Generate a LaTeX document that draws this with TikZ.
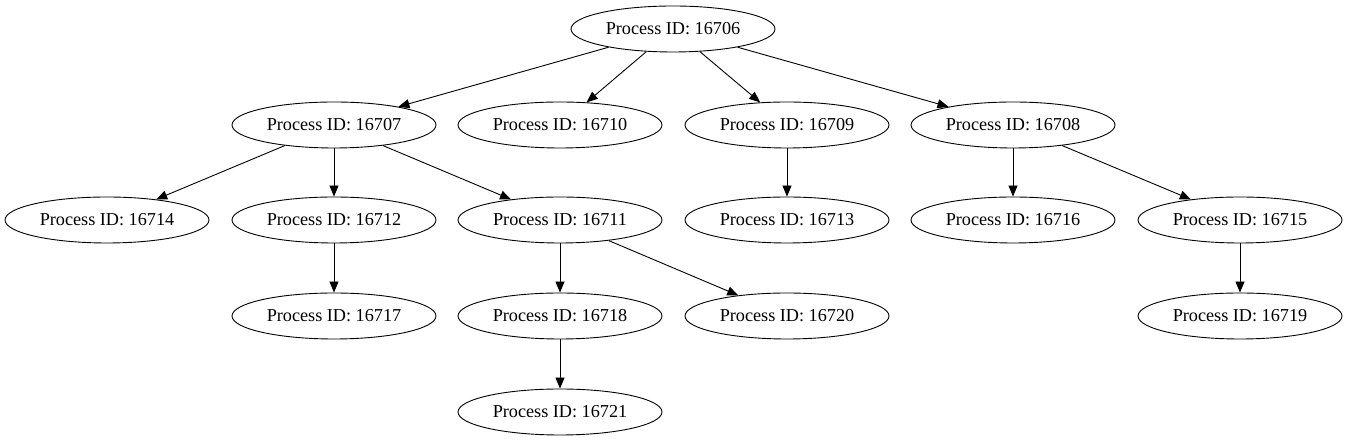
\documentclass[tikz,border=0pt]{standalone}
\usepackage{fontspec}
\setmainfont{Liberation Serif}
\usetikzlibrary{shapes.geometric,arrows.meta}
\begin{document}
\begin{tikzpicture}[x=1pt,y=1pt,
  proc/.style={ellipse,draw,line width=0.9pt,minimum width=204pt,minimum height=46pt,inner sep=0pt,font=\fontsize{18.2}{20}\selectfont},
  edge/.style={draw,line width=0.9pt,-{Triangle[length=11pt,width=9pt]}}]
\useasboundingbox (0,0) rectangle (1347,443);
\node[proc] (n16706) at (673,414) {Process ID: 16706};
\node[proc] (n16707) at (334,318) {Process ID: 16707};
\node[proc] (n16710) at (560,318) {Process ID: 16710};
\node[proc] (n16709) at (787,318) {Process ID: 16709};
\node[proc] (n16708) at (1013,318) {Process ID: 16708};
\node[proc] (n16714) at (107,223) {Process ID: 16714};
\node[proc] (n16712) at (334,223) {Process ID: 16712};
\node[proc] (n16711) at (560,223) {Process ID: 16711};
\node[proc] (n16713) at (787,223) {Process ID: 16713};
\node[proc] (n16716) at (1013,223) {Process ID: 16716};
\node[proc] (n16715) at (1240,223) {Process ID: 16715};
\node[proc] (n16717) at (334,127) {Process ID: 16717};
\node[proc] (n16718) at (560,127) {Process ID: 16718};
\node[proc] (n16720) at (787,127) {Process ID: 16720};
\node[proc] (n16719) at (1240,127) {Process ID: 16719};
\node[proc] (n16721) at (560,31) {Process ID: 16721};
\path[edge] (n16706) -- (n16707);
\path[edge] (n16706) -- (n16710);
\path[edge] (n16706) -- (n16709);
\path[edge] (n16706) -- (n16708);
\path[edge] (n16707) -- (n16714);
\path[edge] (n16707) -- (n16712);
\path[edge] (n16707) -- (n16711);
\path[edge] (n16709) -- (n16713);
\path[edge] (n16708) -- (n16716);
\path[edge] (n16708) -- (n16715);
\path[edge] (n16712) -- (n16717);
\path[edge] (n16711) -- (n16718);
\path[edge] (n16711) -- (n16720);
\path[edge] (n16715) -- (n16719);
\path[edge] (n16718) -- (n16721);
\end{tikzpicture}
\end{document}
